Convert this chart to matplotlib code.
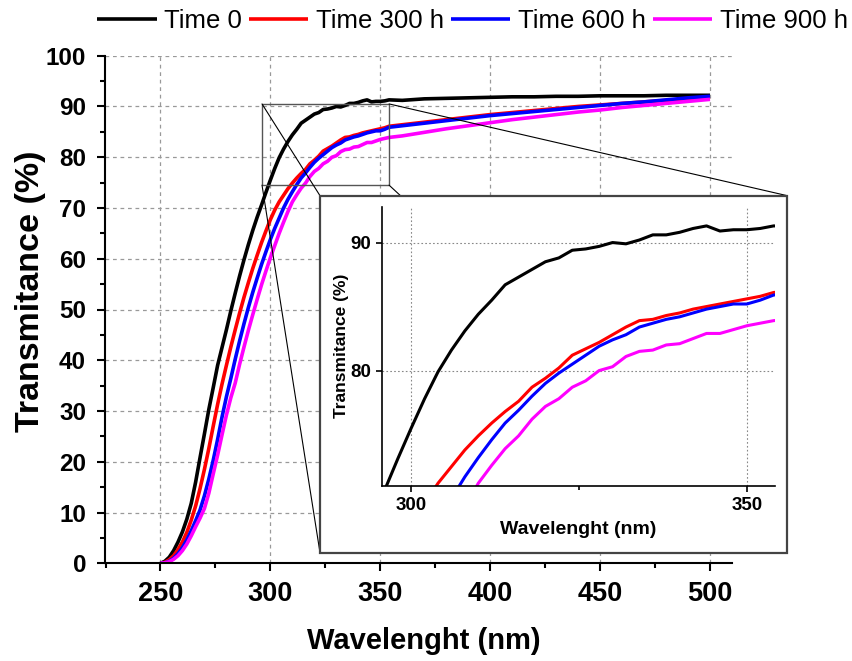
import matplotlib
matplotlib.use("Agg")
import matplotlib.pyplot as plt
from matplotlib.patches import Rectangle, ConnectionPatch
from matplotlib.ticker import MultipleLocator, FixedLocator
import numpy as np

plt.rcParams['font.family'] = ['Liberation Sans', 'DejaVu Sans']

# ---- data ----
wavelength = list(range(250, 356, 2)) + list(range(360, 501, 10))

time_0 = [0, 0.4, 1.2, 2.5, 4.2, 6.2, 8.7, 11.8, 16, 20.8, 25.5, 30.3, 34.6, 39, 42.5,
          46, 49.7, 53.2, 56.6, 59.8, 62.8, 65.6, 68.2, 70.6, 73.1, 75.5, 77.8, 79.9,
          81.6, 83.1, 84.4, 85.5, 86.7, 87.3, 87.9, 88.5, 88.8, 89.4, 89.5, 89.7, 90.0,
          89.9, 90.2, 90.6, 90.6, 90.8, 91.1, 91.3, 90.9, 91.0, 91.0, 91.1, 91.3,
          91.2, 91.5, 91.6, 91.7, 91.8, 91.9, 91.9, 92.0, 92.0, 92.1, 92.1, 92.1, 92.2, 92.2, 92.2]

time_300 = [0, 0.2, 0.7, 1.5, 2.7, 4.2, 6.1, 8.5, 11.3, 14.7, 18.5, 22.6, 27, 31.3, 35.3,
            39, 42.6, 46, 49.3, 52.4, 55.3, 58.1, 60.7, 63.2, 65.5, 67.7, 69.6, 71.2,
            72.5, 73.8, 74.9, 75.9, 76.8, 77.6, 78.7, 79.4, 80.2, 81.2, 81.7, 82.2, 82.8,
            83.4, 83.9, 84.0, 84.3, 84.5, 84.8, 85.0, 85.2, 85.4, 85.6, 85.8, 86.1,
            86.4, 86.9, 87.4, 87.9, 88.4, 88.8, 89.2, 89.6, 90.0, 90.3, 90.6, 90.9, 91.2, 91.5, 91.8]

time_600 = [0, 0.1, 0.4, 1.0, 1.9, 3.1, 4.6, 6.4, 8.4, 10.5, 13.3, 16.6, 20.3, 24.4, 28.8,
            32.8, 36.4, 40.2, 43.8, 47.2, 50.4, 53.4, 56.2, 58.9, 61.4, 63.8, 66.0, 68.0,
            70.0, 71.7, 73.2, 74.6, 75.9, 76.9, 78.0, 79.0, 79.8, 80.5, 81.2, 81.9, 82.4,
            82.8, 83.4, 83.7, 84.0, 84.2, 84.5, 84.8, 85.0, 85.2, 85.2, 85.5, 85.9,
            86.2, 86.7, 87.2, 87.7, 88.2, 88.6, 89.0, 89.4, 89.8, 90.2, 90.6, 90.9, 91.3, 91.7, 92.0]

time_900 = [0, 0.1, 0.3, 0.8, 1.5, 2.5, 3.8, 5.4, 7.2, 8.9, 10.8, 13.8, 17.6, 21.3, 25.3,
            29.2, 32.6, 35.5, 39.2, 42.6, 45.9, 49.0, 52.0, 54.9, 57.6, 60.2, 62.6, 65.0,
            67.2, 69.3, 71.2, 72.6, 73.9, 74.9, 76.2, 77.2, 77.8, 78.7, 79.2, 80.0, 80.3,
            81.1, 81.5, 81.6, 82.0, 82.1, 82.5, 82.9, 82.9, 83.2, 83.5, 83.7, 83.9,
            84.2, 84.9, 85.6, 86.2, 86.8, 87.4, 87.9, 88.4, 88.9, 89.3, 89.8, 90.2, 90.6, 91.0, 91.4]

labels = ['Time 0', 'Time 300 h', 'Time 600 h', 'Time 900 h']
colors = ['#000000', '#FF0000', '#0000FF', '#FF00FF']
series = [time_0, time_300, time_600, time_900]

W, H = 853, 661
fig = plt.figure(figsize=(W / 100, H / 100), dpi=100)

def fx(px):
    return px / W

def fy(py):
    return 1 - py / H

# ---- main axes ----
ax = fig.add_axes([fx(105.5), fy(563.3), fx(732) - fx(105.5), fy(55.7) - fy(563.3)])
ax.set_xlim(225, 510)
ax.set_ylim(0, 100)
for sp in ['top', 'right']:
    ax.spines[sp].set_visible(False)
for sp in ['left', 'bottom']:
    ax.spines[sp].set_linewidth(1.5)
ax.xaxis.set_major_locator(FixedLocator([250, 300, 350, 400, 450, 500]))
ax.xaxis.set_minor_locator(FixedLocator([225, 275, 325, 375, 425, 475]))
ax.yaxis.set_major_locator(MultipleLocator(10))
ax.yaxis.set_minor_locator(MultipleLocator(5))
ax.tick_params(which='major', direction='out', length=6, width=1.5)
ax.tick_params(which='minor', direction='out', length=3.5, width=1.5)
ax.tick_params(axis='x', which='major', labelsize=19.5, pad=7)
ax.tick_params(axis='y', which='major', labelsize=17.5, pad=8)
for lab in ax.get_xticklabels() + ax.get_yticklabels():
    lab.set_fontweight('bold')
ax.grid(True, which='major', linestyle=(0, (3, 3)), color='#999999', linewidth=0.9)

for y, c, lab in zip(series, colors, labels):
    ax.plot(wavelength, y, color=c, lw=2.6, label=lab, solid_capstyle='butt')

ax.set_xlabel('Wavelenght (nm)', fontsize=21, fontweight='bold', va='center')
ax.xaxis.set_label_coords((423.8 - 105.5) / (732 - 105.5), -(641 - 563.3) / (563.3 - 55.7))
ax.set_ylabel('Transmitance (%)', fontsize=24.5, fontweight='bold', va='center')
ax.yaxis.set_label_coords(-(105.5 - 31) / (732 - 105.5), (563.3 - 291) / (563.3 - 55.7))

# zoom rectangle
rx0, rx1, ry0, ry1 = 296.2, 354.0, 74.5, 90.5
ax.add_patch(Rectangle((rx0, ry0), rx1 - rx0, ry1 - ry0, fill=False,
                       edgecolor='#555555', lw=1.0, zorder=5))

# inset box (figure pixels)
bx0, bx1, by0, by1 = 320, 787.3, 195.7, 552.7
for (xa, ya), (xb, yb) in [((rx0, ry1), (bx0, by0)), ((rx0, ry0), (bx0, by1)),
                           ((rx1, ry1), (bx1, by0)), ((rx1, ry0), (bx1, by1))]:
    cp = ConnectionPatch(xyA=(xa, ya), coordsA=ax.transData,
                         xyB=(fx(xb), fy(yb)), coordsB=fig.transFigure,
                         color='black', lw=0.8, zorder=0.5)
    fig.add_artist(cp)

box = Rectangle((fx(bx0), fy(by1)), fx(bx1) - fx(bx0), fy(by0) - fy(by1),
                transform=fig.transFigure, facecolor='white', edgecolor='#444444',
                lw=1.6, zorder=1)
fig.add_artist(box)

# ---- inset axes ----
axi = fig.add_axes([fx(382.3), fy(486.3), fx(775) - fx(382.3), fy(206.7) - fy(486.3)])
axi.set_zorder(2)
axi.set_xlim(295.7, 354.2)
axi.set_ylim(70.96, 92.8)
for sp in ['top', 'right']:
    axi.spines[sp].set_visible(False)
for sp in ['left', 'bottom']:
    axi.spines[sp].set_linewidth(1.2)
axi.xaxis.set_major_locator(FixedLocator([300, 350]))
axi.xaxis.set_minor_locator(FixedLocator([325]))
axi.yaxis.set_major_locator(FixedLocator([80, 90]))
axi.tick_params(which='major', direction='out', length=4, width=1.2, labelsize=13.5, pad=4)
axi.tick_params(which='minor', direction='out', length=3, width=1.2)
for lab in axi.get_xticklabels() + axi.get_yticklabels():
    lab.set_fontweight('bold')
axi.grid(True, which='major', linestyle=(0, (1.5, 2)), color='#888888', linewidth=0.8)
for y, c in zip(series, colors):
    axi.plot(wavelength, y, color=c, lw=2.2)
axi.set_xlabel('Wavelenght (nm)', fontsize=14, fontweight='bold', va='center')
axi.xaxis.set_label_coords((578 - 382.3) / (775 - 382.3), -(530 - 486.3) / (486.3 - 206.7))
axi.set_ylabel('Transmitance (%)', fontsize=12.5, fontweight='bold', va='center')
axi.yaxis.set_label_coords(-(382.3 - 341.7) / (775 - 382.3), (486.3 - 346) / (486.3 - 206.7))

# ---- legend ----
handles, labs = ax.get_legend_handles_labels()
fig.legend(handles, labs, loc='center', bbox_to_anchor=(fx(472.5), fy(20.5)), ncol=4,
           frameon=False, fontsize=18.5, handlelength=2.3, handletextpad=0.28,
           columnspacing=0.3, borderpad=0, borderaxespad=0)

fig.savefig('out.png', dpi=100)
